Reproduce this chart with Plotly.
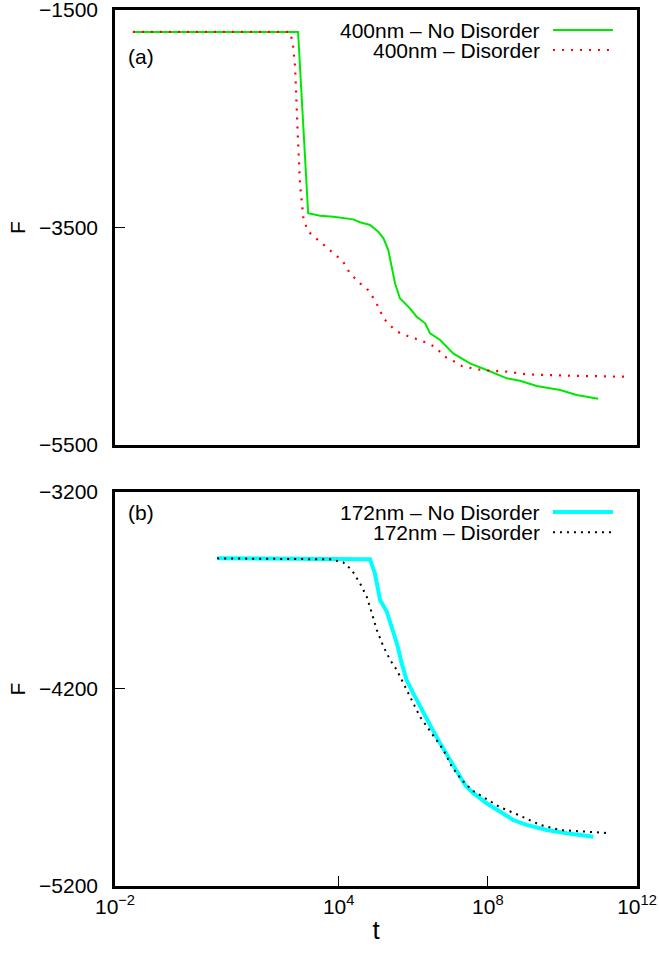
import numpy as np
import plotly.graph_objects as go

# ---------------- data (t given as log10 exponents) ----------------
a_nodis_logt = [-1.52, 2.91, 3.18, 3.50, 3.86, 4.39, 4.57, 4.84, 5.06, 5.20, 5.33, 5.42, 5.51,
                5.64, 5.91, 6.09, 6.32, 6.45, 6.72, 7.07, 7.52, 7.97, 8.51, 8.86, 9.31, 9.94,
                10.38, 10.96]
a_nodis_F = [-1702, -1702, -3369, -3392, -3401, -3425, -3452, -3477, -3539, -3599, -3707, -3860,
             -4013, -4151, -4243, -4320, -4381, -4473, -4534, -4657, -4749, -4810, -4887, -4909,
             -4957, -4994, -5040, -5074]

a_dis_logt = [-1.52, 2.69, 2.77, 2.83, 2.90, 2.96, 3.05, 3.10, 3.16, 3.29, 3.45, 3.72, 3.99,
              4.12, 4.30, 4.57, 4.75, 4.89, 4.97, 5.06, 5.20, 5.46, 5.64, 5.99, 6.18, 6.58,
              6.85, 7.16, 7.30, 7.70, 8.06, 8.51, 9.04, 10.20, 11.68]
a_dis_F = [-1702, -1702, -1803, -2024, -2631, -3091, -3403, -3461, -3529, -3569, -3615, -3691,
           -3769, -3814, -3921, -4013, -4059, -4121, -4167, -4228, -4335, -4427, -4470, -4516,
           -4534, -4596, -4688, -4743, -4774, -4804, -4817, -4826, -4850, -4863, -4872]

b_nodis_logt = [0.74, 4.84, 4.97, 5.11, 5.29, 5.42, 5.56, 5.69, 5.82, 6.00, 6.18, 6.45, 6.72,
                6.99, 7.21, 7.39, 7.61, 7.97, 8.33, 8.68, 9.04, 9.58, 10.12, 10.83]
b_nodis_F = [-3537, -3542, -3613, -3748, -3808, -3884, -3968, -4070, -4154, -4222, -4290, -4383,
             -4476, -4560, -4628, -4687, -4729, -4780, -4823, -4865, -4890, -4916, -4932, -4950]

b_dis_logt = [0.74, 3.77, 4.12, 4.35, 4.57, 4.75, 4.89, 5.02, 5.20, 5.38, 5.56, 5.73, 5.96,
              6.18, 6.81, 7.03, 7.30, 7.57, 8.01, 8.33, 8.86, 9.40, 9.94, 10.65, 11.28]
b_dis_F = [-3537, -3542, -3557, -3596, -3663, -3731, -3816, -3900, -3985, -4053, -4104, -4171,
           -4256, -4341, -4510, -4594, -4662, -4713, -4764, -4800, -4843, -4890, -4916, -4924,
           -4932]

names = ["400nm – No Disorder", "400nm – Disorder", "172nm – No Disorder", "172nm – Disorder"]
panel_labels = ["(a)", "(b)"]

x_tickvals = [1e-2, 1e4, 1e8, 1e12]
x_ticktext = ["10<sup>−2</sup>", "10<sup>4</sup>", "10<sup>8</sup>", "10<sup>12</sup>"]
ya_tickvals = [-5500, -3500, -1500]
ya_ticktext = ["−5500", "−3500", "−1500"]
yb_tickvals = [-5200, -4200, -3200]
yb_ticktext = ["−5200", "−4200", "−3200"]

# ---------------- styles ----------------
FONT = "Liberation Sans, Arial, Helvetica, sans-serif"
FS = 21
GREEN = "#00e800"
RED = "#ff0000"
CYAN = "#00ffff"
BLACK = "#000000"
DOT_RED = "2px,7px"
DOT_BLK = "2px,5px"

def tt(v):
    return (10 ** np.array(v, dtype=float)).tolist()

fig = go.Figure()
fig.add_trace(go.Scatter(x=tt(a_nodis_logt), y=a_nodis_F, mode="lines", name=names[0],
                         line=dict(color=GREEN, width=2), xaxis="x", yaxis="y", showlegend=False))
fig.add_trace(go.Scatter(x=tt(a_dis_logt), y=a_dis_F, mode="lines", name=names[1],
                         line=dict(color=RED, width=2.2, dash=DOT_RED), xaxis="x", yaxis="y",
                         showlegend=False))
fig.add_trace(go.Scatter(x=tt(b_nodis_logt), y=b_nodis_F, mode="lines", name=names[2],
                         line=dict(color=CYAN, width=4), xaxis="x2", yaxis="y2", showlegend=False))
fig.add_trace(go.Scatter(x=tt(b_dis_logt), y=b_dis_F, mode="lines", name=names[3],
                         line=dict(color=BLACK, width=2, dash=DOT_BLK), xaxis="x2", yaxis="y2",
                         showlegend=False))

axis_common = dict(showline=True, linecolor="black", linewidth=2.5, mirror=True,
                   showgrid=False, zeroline=False, ticks="inside", ticklen=10,
                   tickwidth=1.2, tickcolor="black", automargin=False,
                   ticklabeloverflow="allow",
                   tickfont=dict(family=FONT, size=FS, color="black"))

fig.update_layout(
    width=659, height=953,
    margin=dict(l=115, r=22, t=10, b=67),
    paper_bgcolor="white", plot_bgcolor="white",
    font=dict(family=FONT, size=FS, color="black"),
    xaxis=dict(axis_common, type="log", range=[-2, 12], domain=[0, 1], anchor="y",
               tickvals=x_tickvals, ticktext=x_ticktext, showticklabels=False, ticks=""),
    yaxis=dict(axis_common, range=[-5500, -1500], domain=[0.5034, 1.0], anchor="x",
               tickvals=ya_tickvals, ticktext=ya_ticktext, ticklabelstandoff=10,
               title=dict(text="F", standoff=8, font=dict(family=FONT, size=FS))),
    xaxis2=dict(axis_common, type="log", range=[-2, 12], domain=[0, 1], anchor="y2",
                tickvals=x_tickvals, ticktext=x_ticktext,
                title=dict(text="t", standoff=4, font=dict(family=FONT, size=26))),
    yaxis2=dict(axis_common, range=[-5200, -3200], domain=[0.0, 0.4498], anchor="x2",
                tickvals=yb_tickvals, ticktext=yb_ticktext, ticklabelstandoff=10,
                title=dict(text="F", standoff=8, font=dict(family=FONT, size=FS))),
)

annotations = []
shapes = []
# panel labels
for lab, xr, yr, yy in [(panel_labels[0], "x domain", "y domain", 0.892),
                        (panel_labels[1], "x2 domain", "y2 domain", 0.949)]:
    annotations.append(dict(text=lab, xref=xr, yref=yr, x=0.022, y=yy, xanchor="left",
                            yanchor="middle", showarrow=False,
                            font=dict(family=FONT, size=FS, color="black")))

# manual legends (text right-aligned, sample line to the right, gnuplot style)
legend_rows = [
    (names[0], "x domain", "y domain", 0.954, dict(color=GREEN, width=2)),
    (names[1], "x domain", "y domain", 0.908, dict(color=RED, width=2.2, dash=DOT_RED)),
    (names[2], "x2 domain", "y2 domain", 0.949, dict(color=CYAN, width=4)),
    (names[3], "x2 domain", "y2 domain", 0.898, dict(color=BLACK, width=2, dash=DOT_BLK)),
]
for text, xr, yr, yy, ln in legend_rows:
    annotations.append(dict(text=text, xref=xr, yref=yr, x=0.818, y=yy, xanchor="right",
                            yanchor="middle", showarrow=False,
                            font=dict(family=FONT, size=FS, color="black")))
    shapes.append(dict(type="line", xref=xr, yref=yr, x0=0.839, x1=0.954, y0=yy, y1=yy,
                       line=ln))

fig.update_layout(annotations=annotations, shapes=shapes)

fig.write_html("out.html", config={"displayModeBar": False},
               post_script="document.body.style.margin='0';document.body.style.overflow='hidden';")
